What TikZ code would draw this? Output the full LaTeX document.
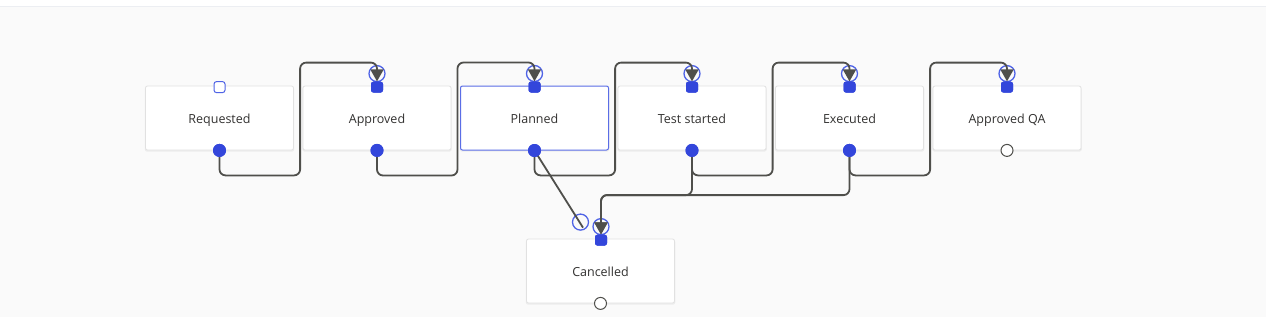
\documentclass[tikz,border=0pt]{standalone}
\usepackage{fontspec}
\setmainfont{Open Sans}
\usetikzlibrary{arrows.meta,calc,shadows}
\definecolor{bgc}{HTML}{FAFAFA}
\definecolor{topline}{HTML}{ECEEF2}
\definecolor{boxborder}{HTML}{E1E1E1}
\definecolor{selblue}{HTML}{5A6DE6}
\definecolor{portblue}{HTML}{3346DB}
\definecolor{ringblue}{HTML}{4F63E6}
\definecolor{linegray}{HTML}{4F4F4B}
\definecolor{txt}{HTML}{323130}
\begin{document}
\begin{tikzpicture}[x=1pt,y=-1pt,
  state/.style={draw=boxborder, fill=white, line width=0.8pt, rounded corners=2pt,
    minimum width=148pt, minimum height=64pt, inner sep=0pt,
    text height=12pt, text depth=2pt,
    font=\fontsize{12.5}{14}\selectfont, text=txt,
    drop shadow={opacity=0.10, shadow xshift=0pt, shadow yshift=-1.2pt, shadow scale=1.01}},
  inport/.style={fill=portblue, rounded corners=2.5pt, minimum width=12pt, minimum height=11pt, inner sep=0pt},
  freeport/.style={draw=ringblue, fill=white, line width=1pt, rounded corners=2.5pt, minimum width=11pt, minimum height=11pt, inner sep=0pt},
  outport/.style={circle, fill=portblue, minimum size=13pt, inner sep=0pt},
  openout/.style={circle, draw=linegray, fill=white, line width=1pt, minimum size=12pt, inner sep=0pt},
  ring/.style={circle, draw=ringblue, line width=1.3pt, minimum size=16pt, inner sep=0pt},
  conn/.style={draw=linegray, line width=1.8pt, rounded corners=6pt},
  arr/.style={-{Triangle[width=13pt,length=12pt]}}
]
\useasboundingbox (0,0) rectangle (1266,317);
\fill[white] (0,0) rectangle (1266,7);
\fill[bgc] (0,7) rectangle (1266,317);
\draw[topline, line width=1.5pt] (0,6.5) -- (1266,6.5);

% states
\node[state] (req) at (219.5,118) {Requested};
\node[state] (app) at (377,118) {Approved};
\node[state, draw=selblue, line width=1pt] (pla) at (534.5,118) {Planned};
\node[state] (tst) at (692,118) {Test started};
\node[state] (exe) at (849.5,118) {Executed};
\node[state] (aqa) at (1007,118) {Approved QA};
\node[state] (can) at (600.5,271) {Cancelled};

% input rings
\node[ring] (appring) at ($(app.north)+(0,-12)$) {};
\node[ring] (plaring) at ($(pla.north)+(0,-12)$) {};
\node[ring] (tstring) at ($(tst.north)+(0,-12)$) {};
\node[ring] (exering) at ($(exe.north)+(0,-12)$) {};
\node[ring] (aqaring) at ($(aqa.north)+(0,-12)$) {};
\node[ring] (canring) at ($(can.north)+(0.5,-12)$) {};
\node[ring] (canring2) at ($(can.north)+(-20,-16.5)$) {};

% ports
\node[freeport] (reqin) at ($(req.north)+(0,1.5)$) {};
\node[inport] (appin) at ($(app.north)+(0,1.5)$) {};
\node[inport] (plain) at ($(pla.north)+(0,1.5)$) {};
\node[inport] (tstin) at ($(tst.north)+(0,1.5)$) {};
\node[inport] (exein) at ($(exe.north)+(0,1.5)$) {};
\node[inport] (aqain) at ($(aqa.north)+(0,1.5)$) {};
\node[inport] (canin) at ($(can.north)+(0.5,1.5)$) {};
\node[outport] (reqout) at (req.south) {};
\node[outport] (appout) at (app.south) {};
\node[outport] (plaout) at (pla.south) {};
\node[outport] (tstout) at (tst.south) {};
\node[outport] (exeout) at (exe.south) {};
\node[openout] (aqaout) at (aqa.south) {};
\node[openout] (canout) at (can.south) {};
\coordinate (pcend) at ($(canring2.center)+(2.5,5.5)$);

% connectors
\draw[conn,arr] (reqout.center) |- ($(app.south west)+(-2.5,25)$) |- ($(appin.center)+(0,-24.5)$) -- (appin.north);
\draw[conn,arr] (appout.center) |- ($(pla.south west)+(-2.5,25)$) |- ($(plain.center)+(0,-24.5)$) -- (plain.north);
\draw[conn,arr] (plaout.center) |- ($(tst.south west)+(-2.5,25)$) |- ($(tstin.center)+(0,-24.5)$) -- (tstin.north);
\draw[conn,arr] (tstout.center) |- ($(exe.south west)+(-2.5,25)$) |- ($(exein.center)+(0,-24.5)$) -- (exein.north);
\draw[conn,arr] (exeout.center) |- ($(aqa.south west)+(-2.5,25)$) |- ($(aqain.center)+(0,-24.5)$) -- (aqain.north);
\draw[conn,arr] (tstout.center) |- ($(canin.center)+(0,-45)$) -- (canin.north);
\draw[conn,arr] (exeout.center) |- ($(canin.center)+(0,-45)$) -- (canin.north);
\draw[conn] (plaout.center) -- (pcend);

% redraw ports on top
\node[inport] at (appin) {};
\node[inport] at (plain) {};
\node[inport] at (tstin) {};
\node[inport] at (exein) {};
\node[inport] at (aqain) {};
\node[inport] at (canin) {};
\node[outport] at (reqout) {};
\node[outport] at (appout) {};
\node[outport] at (plaout) {};
\node[outport] at (tstout) {};
\node[outport] at (exeout) {};
\end{tikzpicture}
\end{document}
